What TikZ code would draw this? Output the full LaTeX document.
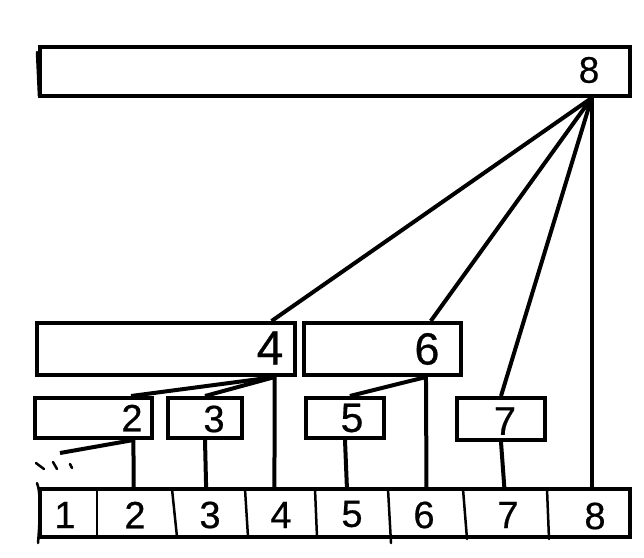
\documentclass[tikz,border=0pt]{standalone}
\usepackage{fontspec}
\newfontfamily\hand[FakeBold=0.5]{Liberation Sans}
\usetikzlibrary{calc}
\tikzset{
  box/.style={draw, line width=4pt, rectangle, inner sep=0pt},
  link/.style={line width=4pt},
  thin/.style={line width=2.5pt, line cap=round},
  num/.style={inner sep=0pt, font=\hand\fontsize{#1}{#1}\selectfont},
  num/.default=38
}
\begin{document}
\begin{tikzpicture}[x=1pt,y=-1pt]
\useasboundingbox[fill=white] (0,0) rectangle (644,557);
% boxes
\node[box, minimum width=590pt, minimum height=49pt] (top) at (335,71.5) {};
\node[box, minimum width=258pt, minimum height=52pt] (b4) at (166,349) {};
\node[box, minimum width=157pt, minimum height=52pt] (b6) at (382.5,349) {};
\node[box, minimum width=117pt, minimum height=40pt] (b2) at (93.5,418) {};
\node[box, minimum width=74pt, minimum height=40pt] (b3) at (205,418) {};
\node[box, minimum width=78pt, minimum height=40pt] (b5) at (345,418) {};
\node[box, minimum width=88pt, minimum height=42pt] (b7) at (501,419) {};
\node[box, minimum width=590pt, minimum height=48pt] (bar) at (335,513) {};
% left edges (hand drawn)
\draw[thin] (37,52) -- (39,96);
\draw[thin] (37,483) .. controls (41,492) and (40,520) .. (38,543);
% cell dividers
\draw[thin] (97,489) -- (97,537);
\draw[thin] (172,489) -- (177,537);
\draw[thin] (245,489) -- (248,537);
\draw[thin] (315,489) -- (317,537);
\draw[thin] (388,489) -- (391,543);
\draw[thin] (463,489) -- (467,539);
\draw[thin] (547,489) -- (549,539);
% labels
\node[num=37] (l8) at (589,70) {8};
\node[num=48] (l4) at (270,348) {4};
\node[num=45] (l6) at (427,349) {6};
\node[num=38] (l2) at (132,418) {2};
\node[num=38] (l3) at (214,419) {3};
\node[num=41] (l5) at (352,418) {5};
\node[num=40] (l7) at (505,421) {7};
\node[num] (c1) at (65,515) {1};
\node[num] (c2) at (135,515) {2};
\node[num] (c3) at (210,515) {3};
\node[num] (c4) at (281,515) {4};
\node[num] (c5) at (352,514) {5};
\node[num] (c6) at (424,515) {6};
\node[num] (c7) at (508,515) {7};
\node[num] (c8) at (595,516) {8};
% connector points
\coordinate (hub) at ($(top.south west)!0.932!(top.south east)$);
\coordinate (p4t) at ($(b4.north west)!0.903!(b4.north east)$);
\coordinate (p4b) at ($(b4.south west)!0.915!(b4.south east)$);
\coordinate (p6t) at ($(b6.north west)!0.80!(b6.north east)$);
\coordinate (p6b) at ($(b6.south west)!0.77!(b6.south east)$);
\coordinate (p2t) at ($(b2.north west)!0.81!(b2.north east)$);
\coordinate (p2b) at ($(b2.south west)!0.83!(b2.south east)$);
\coordinate (p5t) at ($(b5.north west)!0.56!(b5.north east)$);
\coordinate (q2) at ($(bar.north west)!0.161!(bar.north east)$);
\coordinate (q3) at ($(bar.north west)!0.283!(bar.north east)$);
\coordinate (q4) at ($(bar.north west)!0.398!(bar.north east)$);
\coordinate (q5) at ($(bar.north west)!0.520!(bar.north east)$);
\coordinate (q6) at ($(bar.north west)!0.654!(bar.north east)$);
\coordinate (q7) at ($(bar.north west)!0.785!(bar.north east)$);
\coordinate (q8) at ($(bar.north west)!0.932!(bar.north east)$);
\coordinate (free) at (60,453);
% connectors
\draw[link] (hub) -- (p4t);
\draw[link] (hub) -- (p6t);
\draw[link] (hub) -- (b7.north);
\draw[link] (hub) -- (q8);
\draw[link] (p4b) -- (p2t);
\draw[link] (p4b) -- (b3.north);
\draw[link] (p4b) -- (q4);
\draw[link] (p6b) -- (p5t);
\draw[link] (p6b) -- (q6);
\draw[link] (p2b) -- (free);
\draw[link] (p2b) -- (q2);
\draw[link] (b3.south) -- (q3);
\draw[link] (b5.south) -- (q5);
\draw[link] (b7.south) -- (q7);
% dots
\draw[thin] (36,463) -- (44,469);
\draw[thin] (53,462) -- (57,469);
\draw[thin] (70,464) -- (72,468);
\end{tikzpicture}
\end{document}
